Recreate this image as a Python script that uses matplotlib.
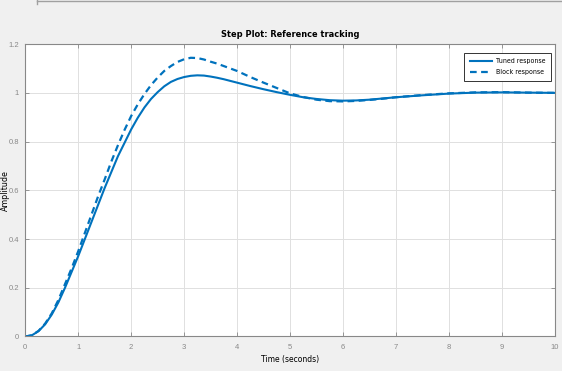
import matplotlib.pyplot as plt
from matplotlib.lines import Line2D
from matplotlib import font_manager

# Time samples (s)
t = [0, 0.125, 0.25, 0.375, 0.5, 0.625, 0.75, 0.875, 1.0, 1.125, 1.25, 1.375,
     1.5, 1.625, 1.75, 1.875, 2.0, 2.125, 2.25, 2.375, 2.5, 2.625, 2.75, 2.875,
     3.0, 3.125, 3.25, 3.375, 3.5, 3.625, 3.75, 3.875, 4.0, 4.25, 4.5, 4.75,
     5.0, 5.25, 5.5, 5.75, 6.0, 6.25, 6.5, 6.75, 7.0, 7.5, 8.0, 8.5, 9.0, 9.5,
     10.0]

tuned = [0, 0.005, 0.022, 0.05, 0.09, 0.14, 0.20, 0.265, 0.33, 0.40, 0.47, 0.54,
         0.61, 0.675, 0.74, 0.795, 0.85, 0.898, 0.94, 0.975, 1.003, 1.027, 1.045,
         1.057, 1.065, 1.070, 1.072, 1.071, 1.067, 1.062, 1.056, 1.049, 1.042,
         1.028, 1.015, 1.003, 0.992, 0.982, 0.975, 0.970, 0.968, 0.969, 0.972,
         0.977, 0.982, 0.990, 0.997, 1.001, 1.002, 1.001, 1.0]

block = [0, 0.005, 0.023, 0.053, 0.095, 0.15, 0.215, 0.28, 0.35, 0.425, 0.50,
         0.575, 0.645, 0.718, 0.785, 0.848, 0.905, 0.953, 0.995, 1.032, 1.063,
         1.09, 1.11, 1.127, 1.138, 1.144, 1.143, 1.137, 1.128, 1.12, 1.11, 1.10,
         1.09, 1.065, 1.042, 1.02, 0.998, 0.983, 0.972, 0.966, 0.965, 0.967,
         0.971, 0.976, 0.982, 0.991, 0.998, 1.002, 1.003, 1.001, 1.0]

xticks = list(range(0, 11))
yticks = [0, 0.2, 0.4, 0.6, 0.8, 1, 1.2]
ytick_labels = ["0", "0.2", "0.4", "0.6", "0.8", "1", "1.2"]

plt.rcParams["font.family"] = ["Liberation Sans", "DejaVu Sans"]

# narrow font for the labels, if a condensed face is around
cond = font_manager.findfont(font_manager.FontProperties(family="DejaVu Sans",
                                                         stretch="condensed",
                                                         weight="bold"))
if "Condensed" in cond:
    lab_font = dict(family="DejaVu Sans", stretch="condensed")
else:
    lab_font = dict(family="Liberation Sans")

fig = plt.figure(figsize=(5.62, 3.71), dpi=100, facecolor="#f0f0f0")
ax = fig.add_axes([0.045, 0.093, 0.942, 0.788])

blue = "#0072BD"
ax.plot(t, tuned, color=blue, lw=1.5, label="Tuned response")
ax.plot(t, block, color=blue, lw=1.6, ls=(0, (3, 2)), label="Block response")

ax.set_xlim(0, 10)
ax.set_ylim(0, 1.2)
ax.set_xticks(xticks)
ax.set_yticks(yticks)
ax.set_yticklabels(ytick_labels)
ax.grid(True, color="#e0e0e0", lw=0.7)
ax.set_axisbelow(True)
ax.tick_params(direction="in", length=3, width=0.6, colors="#888888",
               labelsize=5.5, top=True, right=True)
ax.tick_params(axis="x", pad=5.5)
ax.tick_params(axis="y", pad=4.5)
for s in ax.spines.values():
    s.set_color("#888888")
    s.set_linewidth(0.8)

ax.set_title("Step Plot: Reference tracking", fontsize=6.6, fontweight="bold",
             pad=5, **lab_font)
ax.set_xlabel("Time (seconds)", fontsize=6.1, labelpad=3, **lab_font)
ax.set_ylabel("Amplitude", fontsize=6.4, **lab_font)
ax.yaxis.set_label_coords(-0.029, 0.5)

leg = ax.legend(loc="upper right", fancybox=False, framealpha=1,
                prop=dict(size=5, **lab_font),
                edgecolor="#333333", borderpad=0.8, handlelength=3.2,
                handletextpad=0.6, labelspacing=0.7,
                bbox_to_anchor=(1.0, 0.982))
leg.get_frame().set_linewidth(0.7)

# window frame edge at top of screenshot
fig.add_artist(Line2D([0.066, 1.0], [0.997, 0.997], color="#a0a0a0", lw=1.0))
fig.add_artist(Line2D([0.066, 0.066], [0.99, 1.0], color="#a0a0a0", lw=1.0))

fig.savefig("out.png", dpi=100, facecolor=fig.get_facecolor())
